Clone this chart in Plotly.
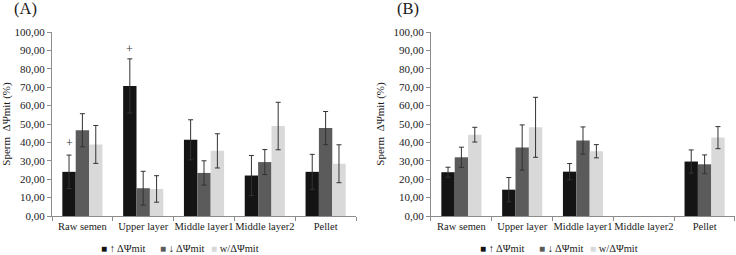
import plotly.graph_objects as go

categories = ["Raw semen", "Upper layer", "Middle layer1", "Middle layer2", "Pellet"]
y_ticks = [0, 10, 20, 30, 40, 50, 60, 70, 80, 90, 100]

# Panel A
up_A = [24.0, 70.7, 41.4, 22.0, 24.0]
up_A_err = [9.1, 14.7, 10.9, 10.9, 9.5]
down_A = [46.6, 15.1, 23.4, 29.3, 47.8]
down_A_err = [9.0, 9.2, 6.6, 6.8, 9.0]
w_A = [38.9, 14.7, 35.4, 48.9, 28.4]
w_A_err = [10.3, 7.2, 9.3, 12.9, 10.3]
plus_A = [39.8, 90.9, None, None, None]

# Panel B
up_B = [23.8, 14.3, 24.1, None, 29.6]
up_B_err = [2.7, 6.6, 4.4, None, 6.3]
down_B = [31.9, 37.2, 41.0, None, 28.1]
down_B_err = [5.5, 12.3, 7.4, None, 5.1]
w_B = [44.2, 48.2, 35.2, None, 42.6]
w_B_err = [4.0, 16.3, 3.6, None, 6.0]

series_names = ["↑ ΔΨmit", "↓ ΔΨmit", "w/ΔΨmit"]
colors = ["#141414", "#5b5b5b", "#d9d9d9"]
FONT = "Liberation Serif"
TXT = "#1a1a1a"

fig = go.Figure()

panels = [
    ("x", "y", [(up_A, up_A_err), (down_A, down_A_err), (w_A, w_A_err)]),
    ("x2", "y2", [(up_B, up_B_err), (down_B, down_B_err), (w_B, w_B_err)]),
]
for xa, ya, series in panels:
    for (vals, errs), name, col in zip(series, series_names, colors):
        fig.add_trace(go.Bar(
            x=categories, y=vals, name=name, xaxis=xa, yaxis=ya,
            marker=dict(color=col, line=dict(width=0)),
            error_y=dict(type="data", array=errs, visible=True,
                         color="#333333", thickness=1, width=2.5),
            showlegend=False,
        ))

axis_common = dict(showline=True, linecolor="#8c8c8c", linewidth=1,
                   ticks="outside", tickcolor="#8c8c8c", ticklen=4,
                   showgrid=False, zeroline=False,
                   tickfont=dict(family=FONT, size=10.5, color=TXT))
yaxis_common = dict(axis_common, range=[0, 100], tickvals=y_ticks,
                    tickformat=".2f", tickfont=dict(family=FONT, size=11, color=TXT),
                    title=dict(text="Sperm  ΔΨmit (%)",
                               font=dict(family=FONT, size=11, color=TXT),
                               standoff=6))

fig.update_layout(
    width=736, height=255,
    margin=dict(l=52, r=1, t=32, b=39),
    paper_bgcolor="white", plot_bgcolor="white",
    separators=",.",
    barmode="group", bargap=0.34, bargroupgap=0,
    xaxis=dict(axis_common, domain=[0, 0.4451], tickson="boundaries", anchor="y",
               tickangle=0, automargin=False),
    xaxis2=dict(axis_common, domain=[0.5549, 1.0], tickson="boundaries", anchor="y2",
                tickangle=0, automargin=False),
    yaxis=dict(yaxis_common, anchor="x"),
    yaxis2=dict(yaxis_common, anchor="x2"),
    font=dict(family=FONT, color=TXT),
)

annotations = []
# plus markers over black bars in panel A
for cat, v in zip(categories, plus_A):
    if v is not None:
        annotations.append(dict(x=cat, y=v, xref="x", yref="y", text="+",
                                showarrow=False, xshift=-13.35,
                                font=dict(family=FONT, size=12, color="#333333")))
# panel labels
annotations.append(dict(x=-0.132, y=1.128, xref="x domain", yref="y domain",
                        text="(A)", showarrow=False, xanchor="left", yanchor="middle",
                        font=dict(family=FONT, size=16.5, color=TXT)))
annotations.append(dict(x=-0.118, y=1.128, xref="x2 domain", yref="y2 domain",
                        text="(B)", showarrow=False, xanchor="left", yanchor="middle",
                        font=dict(family=FONT, size=16.5, color=TXT)))
# custom legends beneath each panel
leg_pos = [0.155, 0.35, 0.515]
for xr, yr in [("x domain", "y domain"), ("x2 domain", "y2 domain")]:
    for name, col, lx in zip(series_names, colors, leg_pos):
        annotations.append(dict(
            x=lx, y=-0.174, xref=xr, yref=yr, xanchor="left", yanchor="middle",
            showarrow=False,
            text=f"<span style='color:{col};font-size:10px'>■</span> {name}",
            font=dict(family=FONT, size=10.5, color=TXT)))
fig.update_layout(annotations=annotations)

fig.write_html("out.html",
               config={"displayModeBar": False},
               post_script="document.body.style.margin='0';document.body.style.overflow='hidden';")
